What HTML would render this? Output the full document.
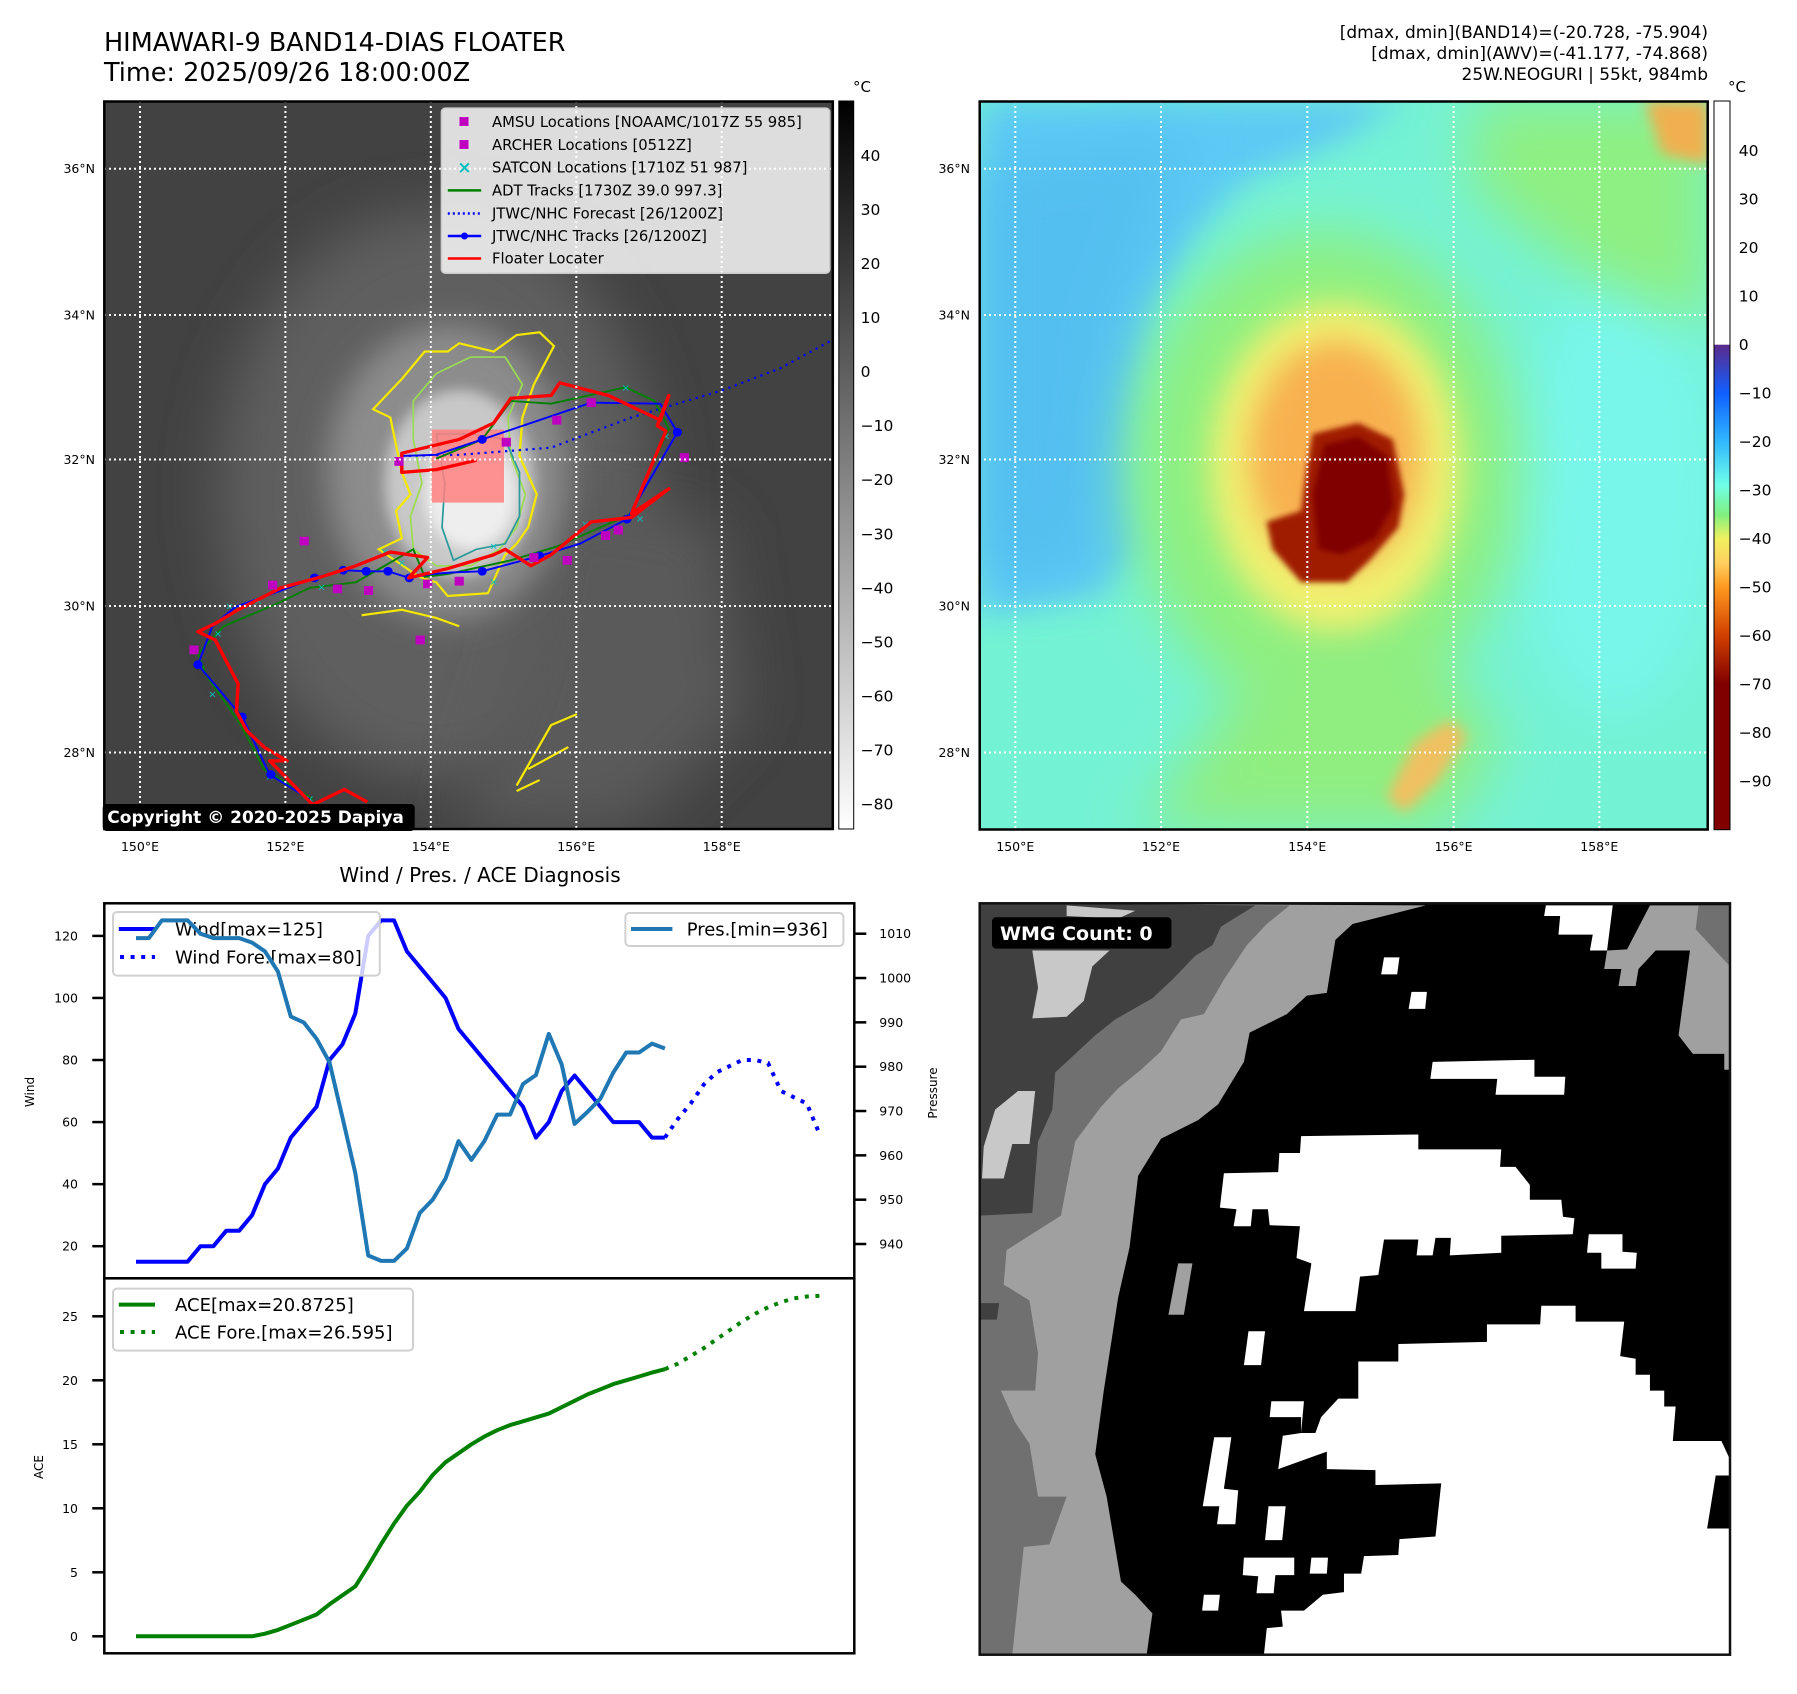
<!DOCTYPE html>
<html><head><meta charset="utf-8"><title>HIMAWARI-9 BAND14 DIAS Floater</title>
<style>
html,body{margin:0;padding:0;background:#fff;}
body{width:1797px;height:1690px;overflow:hidden;font-family:"DejaVu Sans","Liberation Sans",sans-serif;}
svg text{font-family:"DejaVu Sans","Liberation Sans",sans-serif;}
</style></head>
<body>
<svg id="fig" width="1797" height="1690" viewBox="0 0 1797 1690" xmlns="http://www.w3.org/2000/svg">
<defs>
 <filter id="b60" x="-50%" y="-50%" width="200%" height="200%"><feGaussianBlur stdDeviation="50"/></filter>
 <filter id="b30" x="-50%" y="-50%" width="200%" height="200%"><feGaussianBlur stdDeviation="28"/></filter>
 <filter id="b12" x="-50%" y="-50%" width="200%" height="200%"><feGaussianBlur stdDeviation="12"/></filter>
 <filter id="b5" x="-50%" y="-50%" width="200%" height="200%"><feGaussianBlur stdDeviation="5"/></filter>
 <linearGradient id="grayCb" x1="0" y1="0" x2="0" y2="1">
  <stop offset="0" stop-color="#000"/><stop offset="1" stop-color="#fff"/>
 </linearGradient>
 <linearGradient id="colCb" x1="0" y1="0" x2="0" y2="1">
  <stop offset="0" stop-color="#5c2a8c"/>
  <stop offset="0.10" stop-color="#1060ff"/>
  <stop offset="0.20" stop-color="#30b8ff"/>
  <stop offset="0.29" stop-color="#70ffe8"/>
  <stop offset="0.35" stop-color="#80f080"/>
  <stop offset="0.40" stop-color="#f0f060"/>
  <stop offset="0.45" stop-color="#ffd060"/>
  <stop offset="0.50" stop-color="#ff9820"/>
  <stop offset="0.60" stop-color="#d04000"/>
  <stop offset="0.70" stop-color="#800000"/>
  <stop offset="1" stop-color="#800000"/>
 </linearGradient>
 <clipPath id="clipL"><rect x="181" y="184" width="1270" height="1326"/></clipPath>
 <clipPath id="clipR"><rect x="138" y="184" width="1273" height="1327"/></clipPath>
</defs>

<!-- Titles -->
<text x="104" y="51" font-size="25.5">HIMAWARI-9 BAND14-DIAS FLOATER</text>
<text x="104" y="81" font-size="25.5">Time: 2025/09/26 18:00:00Z</text>
<g font-size="17" text-anchor="end">
 <text x="1708" y="38">[dmax, dmin](BAND14)=(-20.728, -75.904)</text>
 <text x="1708" y="59">[dmax, dmin](AWV)=(-41.177, -74.868)</text>
 <text x="1708" y="80">25W.NEOGURI | 55kt, 984mb</text>
</g>

<!-- LEFT IR MAP -->
<svg x="103.8" y="101" width="729.2" height="728.5" viewBox="181 184 1270 1326" preserveAspectRatio="none">
 <g clip-path="url(#clipL)">
 <rect x="181" y="184" width="1270" height="1326" fill="#424242"/>
 <ellipse cx="760" cy="900" rx="380" ry="520" fill="#5e5e5e" filter="url(#b60)"/>
 <polygon points="950,900 1250,950 1300,1300 1100,1510 800,1510 900,1200" fill="#5a5a5a" filter="url(#b60)"/>
 <ellipse cx="780" cy="860" rx="210" ry="270" fill="#8c8c8c" filter="url(#b30)"/>
 <ellipse cx="800" cy="880" rx="130" ry="170" fill="#c8c8c8" filter="url(#b12)"/>
 <ellipse cx="820" cy="900" rx="80" ry="100" fill="#eeeeee" filter="url(#b12)"/>
 <!-- contours -->
 <polygon points="650,745 700,690 740,640 780,640 800,625 860,640 900,610 940,605 965,630 930,700 910,760 905,830 935,900 920,960 900,990 880,1010 850,1080 780,1085 760,1060 730,1050 660,1000 700,980 690,930 715,900 700,860 680,760" fill="none" stroke="#f5e800" stroke-width="4"/>
 <polygon points="720,730 760,680 820,650 880,650 910,700 885,760 890,830 915,900 900,960 870,1000 820,1030 760,1030 720,1000 715,940 735,880 720,800" fill="none" stroke="#9add50" stroke-width="3"/>
 <polygon points="760,790 820,790 880,800 905,860 905,940 880,990 830,1000 790,1020 770,960 775,880" fill="none" stroke="#2a9a9a" stroke-width="3"/>
 <path d="M630,1120 L700,1110 L760,1125 L800,1140 M900,1430 L960,1320 L1005,1300 M920,1400 L990,1360 M900,1440 L940,1420" fill="none" stroke="#f5e800" stroke-width="4"/>
 <rect x="752" y="782" width="126" height="133" fill="#ff8080" opacity="0.85"/>
 <polyline points="700,830 800,828 960,815 1100,760 1260,710 1360,670 1448,620" fill="none" stroke="#0000ff" stroke-width="4" stroke-dasharray="4 8"/>
 <polyline points="545,1455 460,1400 420,1320 360,1230 345,1190 390,1140 480,1100 540,1070 620,1060 720,1000 740,1050 780,1045 890,1020 970,995 1100,935 1165,780 1140,730 1090,705 960,735 890,730 840,800 760,835" fill="none" stroke="#008000" stroke-width="3.5"/>
 <g fill="#00c0c0" font-size="18" text-anchor="middle">
  <text x="370" y="1270">×</text><text x="470" y="1420">×</text><text x="400" y="1110">×</text><text x="450" y="1100">×</text><text x="560" y="1075">×</text><text x="670" y="1010">×</text><text x="700" y="1030">×</text><text x="860" y="1065">×</text><text x="1090" y="712">×</text><text x="1160" y="800">×</text><text x="1115" y="950">×</text><text x="1020" y="960">×</text><text x="860" y="1000">×</text><text x="540" y="1460">×</text><text x="380" y="1160">×</text>
 </g>
 <polyline points="540,1455 470,1410 422,1305 345,1210 370,1140 410,1105 490,1075 548,1052 598,1038 638,1040 676,1040 713,1052 752,1045 790,1042 840,1040 940,1012 1010,990 1092,945 1180,787 1150,735 1030,733 840,800 760,828 700,830" fill="none" stroke="#0000ff" stroke-width="3.5"/>
 <g fill="#0000ff">
  <circle cx="472" cy="1410" r="8"/><circle cx="422" cy="1305" r="8"/><circle cx="345" cy="1210" r="8"/><circle cx="548" cy="1052" r="8"/><circle cx="598" cy="1038" r="8"/><circle cx="638" cy="1040" r="8"/><circle cx="676" cy="1040" r="8"/><circle cx="713" cy="1052" r="8"/><circle cx="840" cy="1040" r="8"/><circle cx="940" cy="1012" r="8"/><circle cx="1092" cy="945" r="8"/><circle cx="1180" cy="787" r="8"/><circle cx="1030" cy="733" r="8"/><circle cx="840" cy="800" r="8"/>
 </g>
 <polyline points="640,1460 600,1437 545,1465 470,1385 500,1385 460,1360 430,1330 412,1295 415,1245 400,1215 375,1165 345,1150 375,1135 415,1110 490,1070 560,1050 620,1030 680,1005 745,1015 712,1052 780,1035 860,1010 880,1000 925,1030 960,1010 1030,950 1100,942 1165,890 1100,935 1160,785 1145,775 1165,720 1150,765 1060,720 975,697 960,720 890,725 860,770 800,800 700,825 700,860 760,855 830,838" fill="none" stroke="#ff0000" stroke-width="6" stroke-linejoin="round"/>
 <g fill="#c000c0">
  <rect x="1022" y="725" width="16" height="16"/><rect x="962" y="757" width="16" height="16"/><rect x="874" y="797" width="16" height="16"/><rect x="687" y="832" width="16" height="16"/><rect x="522" y="977" width="16" height="16"/><rect x="467" y="1057" width="16" height="16"/><rect x="580" y="1064" width="16" height="16"/><rect x="634" y="1067" width="16" height="16"/><rect x="737" y="1055" width="16" height="16"/><rect x="792" y="1050" width="16" height="16"/><rect x="922" y="1007" width="16" height="16"/><rect x="980" y="1012" width="16" height="16"/><rect x="1047" y="967" width="16" height="16"/><rect x="1069" y="957" width="16" height="16"/><rect x="1184" y="825" width="16" height="16"/><rect x="724" y="1157" width="16" height="16"/><rect x="330" y="1175" width="16" height="16"/>
 </g>
 </g>
</svg>
<g stroke="#fff" stroke-width="2" stroke-dasharray="2 3">
 <line x1="140" y1="101" x2="140" y2="829"/><line x1="285.4" y1="101" x2="285.4" y2="829"/><line x1="430.8" y1="101" x2="430.8" y2="829"/><line x1="576.3" y1="101" x2="576.3" y2="829"/><line x1="721.7" y1="101" x2="721.7" y2="829"/>
 <line x1="104" y1="168.7" x2="833" y2="168.7"/><line x1="104" y1="315" x2="833" y2="315"/><line x1="104" y1="459.5" x2="833" y2="459.5"/><line x1="104" y1="606" x2="833" y2="606"/><line x1="104" y1="752.5" x2="833" y2="752.5"/>
</g>
<rect x="104.3" y="101.5" width="728.5" height="727.5" fill="none" stroke="#000" stroke-width="2.5"/>
<g>
 <rect x="441.4" y="108.1" width="388.4" height="165.2" rx="4" fill="#fff" fill-opacity="0.82" stroke="#ccc" stroke-width="1.5"/>
 <g font-size="14.8">
  <rect x="459.5" y="117" width="9" height="9" fill="#c000c0"/><text x="492" y="127">AMSU Locations [NOAAMC/1017Z 55 985]</text>
  <rect x="459.5" y="140" width="9" height="9" fill="#c000c0"/><text x="492" y="150">ARCHER Locations [0512Z]</text>
  <text x="464.5" y="173" fill="#00c0c0" text-anchor="middle" font-size="17" font-weight="bold">×</text><text x="492" y="172.6">SATCON Locations [1710Z 51 987]</text>
  <line x1="447.8" y1="190.4" x2="481.2" y2="190.4" stroke="#008000" stroke-width="2.5"/><text x="492" y="195.6">ADT Tracks [1730Z 39.0 997.3]</text>
  <line x1="447.8" y1="213.5" x2="481.2" y2="213.5" stroke="#0000ff" stroke-width="2.5" stroke-dasharray="2 3"/><text x="492" y="218.7">JTWC/NHC Forecast [26/1200Z]</text>
  <line x1="447.8" y1="236" x2="481.2" y2="236" stroke="#0000ff" stroke-width="2.5"/><circle cx="464.5" cy="236" r="3.5" fill="#0000ff"/><text x="492" y="241.2">JTWC/NHC Tracks [26/1200Z]</text>
  <line x1="447.8" y1="258.5" x2="481.2" y2="258.5" stroke="#ff0000" stroke-width="2.5"/><text x="492" y="263.7">Floater Locater</text>
 </g>
</g>
<g>
 <rect x="102.7" y="804" width="312" height="27" rx="4" fill="#000"/>
 <text x="107.3" y="823" font-size="17" font-weight="bold" fill="#fff">Copyright © 2020-2025 Dapiya</text>
</g>
<g font-size="12.5" text-anchor="end">
 <text x="95" y="173">36°N</text><text x="95" y="319.5">34°N</text><text x="95" y="464">32°N</text><text x="95" y="610.5">30°N</text><text x="95" y="757">28°N</text>
</g>
<g font-size="12.5" text-anchor="middle">
 <text x="140" y="851">150°E</text><text x="285.4" y="851">152°E</text><text x="430.8" y="851">154°E</text><text x="576.3" y="851">156°E</text><text x="721.7" y="851">158°E</text>
</g>
<g>
 <rect x="838.8" y="101" width="14.9" height="728" fill="url(#grayCb)" stroke="#000" stroke-width="1"/>
 <text x="862" y="92" font-size="15" text-anchor="middle">°C</text>
 <g font-size="15.5">
  <text x="860.6" y="161">40</text><text x="860.6" y="215">30</text><text x="860.6" y="269">20</text><text x="860.6" y="323">10</text><text x="860.6" y="377">0</text><text x="860.6" y="431">−10</text><text x="860.6" y="485">−20</text><text x="860.6" y="539.5">−30</text><text x="860.6" y="593.5">−40</text><text x="860.6" y="647.5">−50</text><text x="860.6" y="701.5">−60</text><text x="860.6" y="755.5">−70</text><text x="860.6" y="809.5">−80</text>
 </g>
</g>

<!-- RIGHT AWV MAP -->
<svg x="979.2" y="101" width="729.1" height="729" viewBox="138 184 1273 1327" preserveAspectRatio="none">
 <g clip-path="url(#clipR)">
 <rect x="138" y="184" width="1273" height="1327" fill="#74f2d4"/>
 <polygon points="138,184 880,184 760,260 600,330 520,420 440,560 410,700 400,840 420,1000 350,1080 138,1120" fill="#5ccaf4" filter="url(#b30)"/>
 <polygon points="138,300 500,250 380,600 360,900 300,1050 138,1050" fill="#52bff0" filter="url(#b60)"/>
 <ellipse cx="1250" cy="900" rx="180" ry="400" fill="#78f6ea" filter="url(#b60)"/>
 <ellipse cx="740" cy="860" rx="340" ry="440" fill="#8ef080" filter="url(#b60)"/>
 <polygon points="420,1510 700,1100 900,1150 1050,1350 950,1510" fill="#90ee80" filter="url(#b60)"/>
 <polygon points="1000,184 1411,184 1411,600 1200,500 1000,350" fill="#8ef082" filter="url(#b60)"/>
 <ellipse cx="760" cy="850" rx="220" ry="300" fill="#f0f070" filter="url(#b30)"/>
 <ellipse cx="760" cy="830" rx="150" ry="210" fill="#f8b050" filter="url(#b30)"/>
 <polygon points="850,1450 900,1350 960,1310 990,1340 940,1420 880,1480" fill="#f0c060" filter="url(#b12)"/>
 <polygon points="1300,184 1411,184 1411,300 1330,280" fill="#f0b050" filter="url(#b12)"/>
 <polygon points="720,790 800,770 860,800 880,900 870,960 820,1020 780,1060 700,1060 650,1000 640,950 700,930 710,850" fill="#a01a00" filter="url(#b5)"/>
 <polygon points="740,810 800,795 850,830 862,920 830,980 770,1010 730,1000 720,900" fill="#800000" filter="url(#b5)"/>
 </g>
</svg>
<g stroke="#fff" stroke-width="2" stroke-dasharray="2 3">
 <line x1="1015.3" y1="101" x2="1015.3" y2="830"/><line x1="1161" y1="101" x2="1161" y2="830"/><line x1="1307.3" y1="101" x2="1307.3" y2="830"/><line x1="1453.6" y1="101" x2="1453.6" y2="830"/><line x1="1599.3" y1="101" x2="1599.3" y2="830"/>
 <line x1="979" y1="168.7" x2="1708" y2="168.7"/><line x1="979" y1="315" x2="1708" y2="315"/><line x1="979" y1="459.5" x2="1708" y2="459.5"/><line x1="979" y1="606" x2="1708" y2="606"/><line x1="979" y1="752.5" x2="1708" y2="752.5"/>
</g>
<rect x="979.7" y="101.5" width="728" height="728" fill="none" stroke="#000" stroke-width="2.5"/>
<g font-size="12.5" text-anchor="end">
 <text x="970" y="173">36°N</text><text x="970" y="319.5">34°N</text><text x="970" y="464">32°N</text><text x="970" y="610.5">30°N</text><text x="970" y="757">28°N</text>
</g>
<g font-size="12.5" text-anchor="middle">
 <text x="1015.3" y="851">150°E</text><text x="1161" y="851">152°E</text><text x="1307.3" y="851">154°E</text><text x="1453.6" y="851">156°E</text><text x="1599.3" y="851">158°E</text>
</g>
<g>
 <rect x="1714" y="101" width="16" height="244" fill="#fff"/>
 <rect x="1714" y="344.7" width="16" height="485" fill="url(#colCb)"/>
 <rect x="1714" y="101" width="16" height="728.7" fill="none" stroke="#000" stroke-width="1"/>
 <text x="1737" y="92" font-size="15" text-anchor="middle">°C</text>
 <g font-size="15.5">
  <text x="1738.8" y="156">40</text><text x="1738.8" y="204.5">30</text><text x="1738.8" y="253">20</text><text x="1738.8" y="301.5">10</text><text x="1738.8" y="350">0</text><text x="1738.8" y="398.5">−10</text><text x="1738.8" y="447">−20</text><text x="1738.8" y="495.5">−30</text><text x="1738.8" y="544">−40</text><text x="1738.8" y="592.5">−50</text><text x="1738.8" y="641">−60</text><text x="1738.8" y="689.5">−70</text><text x="1738.8" y="738">−80</text><text x="1738.8" y="786.5">−90</text>
 </g>
</g>

<!-- DIAGNOSIS CHART -->
<text x="480" y="882" font-size="20" text-anchor="middle">Wind / Pres. / ACE Diagnosis</text>
<g id="chart"></g>

<!-- WMG -->
<svg x="979.7" y="903.3" width="750.3" height="751.4" viewBox="138 81 1312 1417" preserveAspectRatio="none">
 <rect x="138" y="81" width="1312" height="1417" fill="#000"/>
 <polygon points="138,81 918,85 790,120 760,150 745,250 710,255 675,290 610,325 600,380 555,460 520,490 455,525 415,595 400,730 380,825 355,1000 340,1120 360,1200 385,1360 410,1385 440,1420 430,1498 138,1498" fill="#a0a0a0"/>
 <polygon points="138,81 680,85 640,120 605,160 565,225 530,290 490,300 455,360 420,395 380,430 350,465 305,530 280,670 185,735 180,800 225,830 240,930 235,1000 175,1000 200,1060 225,1100 240,1200 290,1200 260,1290 215,1295 195,1498 138,1498" fill="#707070"/>
 <polygon points="138,81 620,85 560,125 545,160 515,180 475,225 440,260 375,300 340,330 305,365 270,400 265,470 240,530 230,665 138,670" fill="#404040"/>
 <polygon points="138,835 172,835 168,866 138,866" fill="#404040"/>
 <polygon points="230,170 365,170 335,200 320,265 290,295 230,298 240,240" fill="#c8c8c8"/>
 <polygon points="290,85 410,95 380,110 290,105" fill="#c8c8c8"/>
 <polygon points="205,435 235,435 225,535 195,535 180,600 142,600 145,540 165,470" fill="#c8c8c8"/>
 <polygon points="1310,85 1450,85 1450,395 1440,395 1440,365 1385,365 1360,330 1380,170 1320,170 1290,205 1285,237 1255,237 1260,205 1230,205 1235,170 1270,168" fill="#a0a0a0"/>
 <polygon points="1395,85 1450,85 1450,200 1420,165 1390,130" fill="#707070"/>
 <polygon points="485,760 510,760 495,857 468,857" fill="#a0a0a0"/>
 <g fill="#fff">
  <polygon points="1128,85 1245,85 1235,170 1205,170 1210,140 1150,140 1153,105 1125,105"/>
  <polygon points="845,183 872,183 868,215 840,215"/>
  <polygon points="893,248 920,248 917,280 888,280"/>
  <polygon points="930,380 1108,376 1108,408 1162,408 1160,442 1040,442 1043,412 926,412"/>
  <polygon points="565,590 660,588 662,552 698,552 700,520 905,517 905,545 1050,545 1048,578 1075,578 1100,612 1100,640 1155,640 1158,672 1178,675 1175,705 1050,708 1050,740 960,745 962,712 935,712 930,745 902,745 905,715 845,715 835,782 803,785 795,850 705,850 718,760 692,750 698,690 645,688 642,658 615,658 612,690 582,690 587,658 558,655"/>
  <polygon points="1203,705 1262,705 1262,738 1287,740 1285,770 1225,770 1225,740 1200,740"/>
  <polygon points="1120,840 1180,840 1180,870 1265,870 1258,935 1285,940 1285,970 1310,970 1310,1000 1335,1000 1335,1030 1355,1030 1350,1095 1435,1095 1450,1130 1450,1160 1425,1160 1410,1260 1450,1260 1450,1498 635,1498 640,1448 668,1445 665,1415 705,1415 738,1385 775,1380 775,1345 805,1345 810,1312 870,1310 872,1280 935,1275 945,1175 830,1178 830,1150 745,1148 745,1115 660,1148 668,1085 700,1080 700,1050 645,1050 648,1020 705,1020 700,1080 725,1080 735,1050 765,1015 800,1015 800,945 870,945 870,912 1025,908 1025,875 1118,875"/>
  <polygon points="608,888 637,888 630,952 600,952"/>
  <polygon points="548,1088 578,1088 565,1185 590,1188 585,1252 553,1252 557,1218 528,1218"/>
  <polygon points="643,1218 673,1218 667,1282 637,1282"/>
  <polygon points="600,1315 688,1315 688,1348 655,1348 652,1382 622,1382 625,1350 598,1348"/>
  <polygon points="718,1315 747,1315 745,1345 715,1345"/>
  <polygon points="530,1385 558,1385 555,1415 527,1415"/>
 </g>
</svg>
<rect x="979.7" y="903.3" width="750.3" height="751.4" fill="none" stroke="#111" stroke-width="2.5"/>
<g>
 <rect x="992" y="917.3" width="179.4" height="31.3" rx="4" fill="#000"/>
 <text x="1000" y="940" font-size="19" font-weight="bold" fill="#fff">WMG Count: 0</text>
</g>
</svg>

<script>
// ---- chart data ----
const windObs = [15,15,15,15,15,20,20,25,25,30,40,45,55,60,65,80,85,95,120,125,125,115,110,105,100,90,85,80,75,70,65,55,60,70,75,70,65,60,60,60,55,55];
const windFore = [55,61,66,72,76,78,80,80,79,70,68,66,56];
const presObs = [1009,1009,1013,1013,1013,1010,1009,1009,1009,1008,1006,1001.5,991.3,990,986.3,981,968.6,956,937.4,936.2,936.2,939,947,950,954.8,963.2,959,963.2,969.2,969.2,976.1,978.1,987.4,980.5,967.1,969.8,972.8,978.7,983.2,983.2,985.2,984.1];
const aceObs = [0,0,0,0,0,0,0,0,0,0,0.2,0.5,0.9,1.3,1.7,2.5,3.2,3.9,5.5,7.2,8.8,10.2,11.3,12.6,13.6,14.3,15,15.6,16.1,16.5,16.8,17.1,17.4,17.9,18.4,18.9,19.3,19.7,20.0,20.3,20.6,20.87];
const aceFore = [20.87,21.3,21.9,22.5,23.2,23.9,24.6,25.2,25.7,26.1,26.4,26.55,26.6];
const windTicks = [20,40,60,80,100,120];
const presTicks = [940,950,960,970,980,990,1000,1010];
const aceTicks = [0,5,10,15,20,25];
const foreStart = 41;

const NS = 'http://www.w3.org/2000/svg';
const chart = document.getElementById('chart');
const PL = 104.3, PR = 854.3, WT = 903.3, WB = 1278.3, AB = 1653.3;
function xS(n){ return 136 + n * 12.9; }
function yW(v){ return 935.9 + (120 - v) * 3.103; }
function yP(v){ return 933.7 + (1010 - v) * 4.433; }
function yA(v){ return 1636.3 - v * 12.8; }
function mk(tag, attrs, parent){
  const e = document.createElementNS(NS, tag);
  for (const k in attrs) e.setAttribute(k, attrs[k]);
  (parent || chart).appendChild(e);
  return e;
}
function pts(arr, off, yf){ return arr.map((v,i)=> xS(i+off).toFixed(1)+','+yf(v).toFixed(1)).join(' '); }

let wind = mk('polyline', {points: pts(windObs,0,yW), fill:'none', stroke:'#0000ff', 'stroke-width':4, 'stroke-linejoin':'round'});


let windF = mk('polyline', {points: pts(windFore,foreStart,yW), fill:'none', stroke:'#0000ff', 'stroke-width':4, 'stroke-dasharray':'4 6.6'});



let wl = mk('g', {});


mk('rect', {x:113, y:912, width:266.8, height:63.6, rx:4, fill:'#fff', 'fill-opacity':0.8, stroke:'#d0d0d0', 'stroke-width':2}, wl);
mk('line', {x1:118.8, y1:929, x2:155, y2:929, stroke:'#0000ff', 'stroke-width':4}, wl);
mk('line', {x1:120, y1:957, x2:155, y2:957, stroke:'#0000ff', 'stroke-width':4, 'stroke-dasharray':'4 6.6'}, wl);
let t1 = mk('text', {x:175, y:935.5, 'font-size':18}, wl); t1.textContent = 'Wind[max=125]';
let t2 = mk('text', {x:175, y:963.5, 'font-size':18}, wl); t2.textContent = 'Wind Fore.[max=80]';

let pres = mk('polyline', {points: pts(presObs,0,yP), fill:'none', stroke:'#1f77b4', 'stroke-width':4, 'stroke-linejoin':'round'});


let pl = mk('g', {});


mk('rect', {x:625.4, y:913, width:218, height:33, rx:4, fill:'#fff', 'fill-opacity':0.8, stroke:'#d0d0d0', 'stroke-width':2}, pl);
mk('line', {x1:631, y1:929, x2:672.4, y2:929, stroke:'#1f77b4', 'stroke-width':4}, pl);
let t3 = mk('text', {x:686.7, y:935.5, 'font-size':18}, pl); t3.textContent = 'Pres.[min=936]';

let ace = mk('polyline', {points: pts(aceObs,0,yA), fill:'none', stroke:'#008000', 'stroke-width':4, 'stroke-linejoin':'round'});


let aceF = mk('polyline', {points: pts(aceFore,foreStart,yA), fill:'none', stroke:'#008000', 'stroke-width':4, 'stroke-dasharray':'4 6.6'});


let al = mk('g', {});


mk('rect', {x:113, y:1288.6, width:300, height:62, rx:4, fill:'#fff', 'fill-opacity':0.8, stroke:'#d0d0d0', 'stroke-width':2}, al);
mk('line', {x1:118.8, y1:1304.6, x2:155, y2:1304.6, stroke:'#008000', 'stroke-width':4}, al);
mk('line', {x1:120, y1:1332, x2:155, y2:1332, stroke:'#008000', 'stroke-width':4, 'stroke-dasharray':'4 6.6'}, al);
let t4 = mk('text', {x:175, y:1311, 'font-size':18}, al); t4.textContent = 'ACE[max=20.8725]';
let t5 = mk('text', {x:175, y:1338.5, 'font-size':18}, al); t5.textContent = 'ACE Fore.[max=26.595]';

let f1 = mk('rect', {x:PL, y:WT, width:PR-PL, height:WB-WT, fill:'none', stroke:'#000', 'stroke-width':2.5});


let f2 = mk('rect', {x:PL, y:WB, width:PR-PL, height:AB-WB, fill:'none', stroke:'#000', 'stroke-width':2.5});



windTicks.forEach(v => {
  const y = yW(v);
  let tk = mk('line', {x1:PL-12, y1:y, x2:PL, y2:y, stroke:'#000', 'stroke-width':2.5});
  
  
  let tl = mk('text', {x:78, y:y+4.5, 'font-size':12.5, 'text-anchor':'end'}); tl.textContent = v;
  
  
});
presTicks.forEach(v => {
  const y = yP(v);
  let tk = mk('line', {x1:PR, y1:y, x2:PR+12, y2:y, stroke:'#000', 'stroke-width':2.5});
  
  
  let tl = mk('text', {x:879.3, y:y+4.5, 'font-size':12.5}); tl.textContent = v;
  
  
});
aceTicks.forEach(v => {
  const y = yA(v);
  let tk = mk('line', {x1:PL-12, y1:y, x2:PL, y2:y, stroke:'#000', 'stroke-width':2.5});
  
  
  let tl = mk('text', {x:78, y:y+4.5, 'font-size':12.5, 'text-anchor':'end'}); tl.textContent = v;
  
  
});
let a1 = mk('text', {x:0, y:0, 'font-size':12, 'text-anchor':'middle', transform:'translate(34,1092) rotate(-90)'}); a1.textContent = 'Wind';


let a2 = mk('text', {x:0, y:0, 'font-size':12, 'text-anchor':'middle', transform:'translate(43,1467) rotate(-90)'}); a2.textContent = 'ACE';


let a3 = mk('text', {x:0, y:0, 'font-size':12, 'text-anchor':'middle', transform:'translate(937,1093) rotate(-90)'}); a3.textContent = 'Pressure';


</script>
</body></html>
